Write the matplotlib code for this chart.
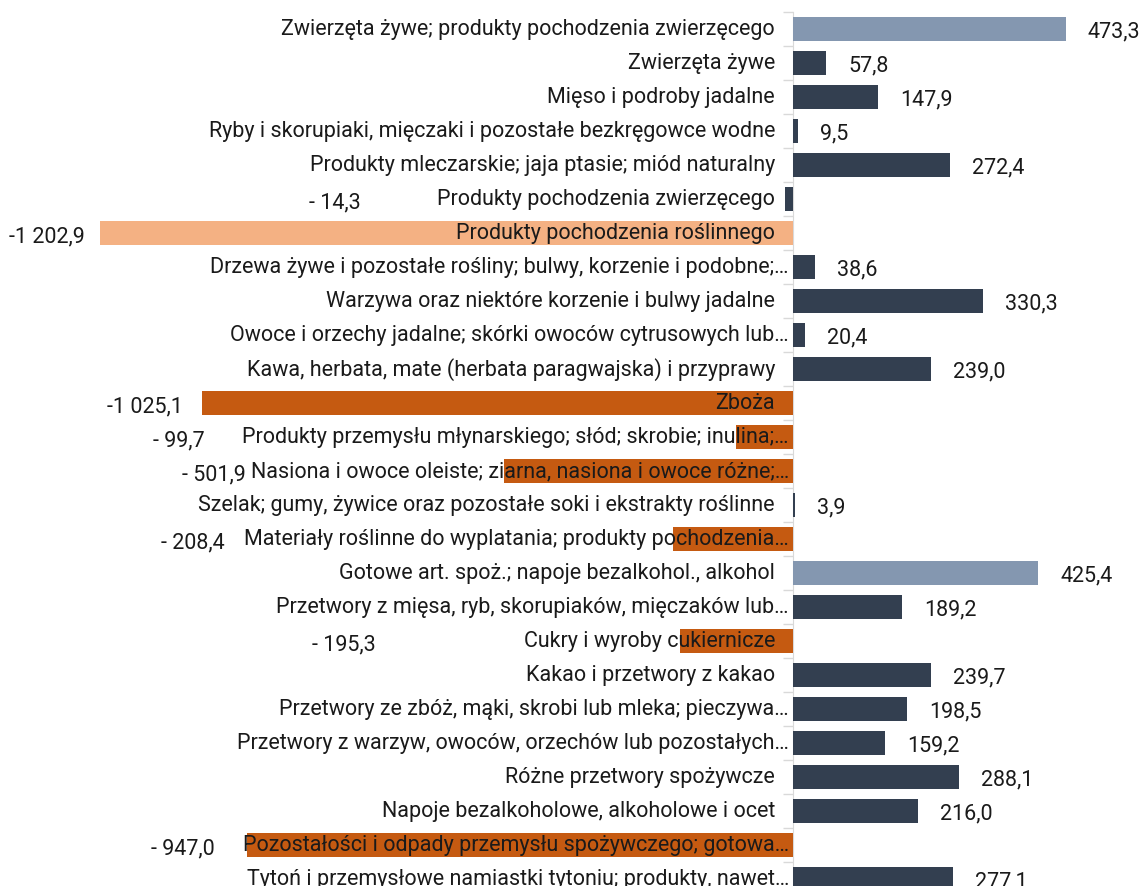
import matplotlib
matplotlib.use("Agg")
import matplotlib.pyplot as plt
from matplotlib.transforms import offset_copy

plt.rcParams['font.family'] = ['Roboto', 'DejaVu Sans']

# Dane
kategorie = [
    "Zwierzęta żywe; produkty pochodzenia zwierzęcego",
    "Zwierzęta żywe",
    "Mięso i podroby jadalne",
    "Ryby i skorupiaki, mięczaki i pozostałe bezkręgowce wodne",
    "Produkty mleczarskie; jaja ptasie; miód naturalny",
    "Produkty pochodzenia zwierzęcego",
    "Produkty pochodzenia roślinnego",
    "Drzewa żywe i pozostałe rośliny; bulwy, korzenie i podobne;…",
    "Warzywa oraz niektóre korzenie i bulwy jadalne",
    "Owoce i orzechy jadalne; skórki owoców cytrusowych lub…",
    "Kawa, herbata, mate (herbata paragwajska) i przyprawy",
    "Zboża",
    "Produkty przemysłu młynarskiego; słód; skrobie; inulina;…",
    "Nasiona i owoce oleiste; ziarna, nasiona i owoce różne;…",
    "Szelak; gumy, żywice oraz pozostałe soki i ekstrakty roślinne",
    "Materiały roślinne do wyplatania; produkty pochodzenia…",
    "Gotowe art. spoż.; napoje bezalkohol., alkohol",
    "Przetwory z mięsa, ryb, skorupiaków, mięczaków lub…",
    "Cukry i wyroby cukiernicze",
    "Kakao i przetwory z kakao",
    "Przetwory ze zbóż, mąki, skrobi lub mleka; pieczywa…",
    "Przetwory z warzyw, owoców, orzechów lub pozostałych…",
    "Różne przetwory spożywcze",
    "Napoje bezalkoholowe, alkoholowe i ocet",
    "Pozostałości i odpady przemysłu spożywczego; gotowa…",
    "Tytoń i przemysłowe namiastki tytoniu; produkty, nawet…",
]
wartosci = [473.3, 57.8, 147.9, 9.5, 272.4, -14.3, -1202.9, 38.6, 330.3, 20.4,
            239.0, -1025.1, -99.7, -501.9, 3.9, -208.4, 425.4, 189.2, -195.3,
            239.7, 198.5, 159.2, 288.1, 216.0, -947.0, 277.1]
# typ słupka: g+ grupa dodatnia, g- grupa ujemna, p+ pozycja dodatnia, p- pozycja ujemna
typ = ["g+", "p+", "p+", "p+", "p+", "p+", "g-", "p+", "p+", "p+",
       "p+", "p-", "p-", "p-", "p+", "p-", "g+", "p+", "p-",
       "p+", "p+", "p+", "p+", "p+", "p-", "p+"]

kolory = {"g+": "#8497B0", "g-": "#F4B183", "p+": "#333F50", "p-": "#C55A11"}

# dodatkowe przesunięcie etykiet ujemnych (px, w lewo)
przesun = {5: 62, 6: 1, 11: 5, 12: 24, 13: -9, 15: 6, 18: 134, 24: 14}

fig = plt.figure(figsize=(11.4, 8.87), dpi=100)
ax = fig.add_axes([0, 0, 1, 1])

y = list(range(len(kategorie)))
ax.barh(y, wartosci, height=0.68, color=[kolory[t] for t in typ], zorder=1)

ax.set_xlim(-1375.5, 601.9)
ax.set_ylim(25.206, -0.882)

for s in ['top', 'right', 'bottom']:
    ax.spines[s].set_visible(False)
ax.spines['left'].set_position(('data', 0))
ax.spines['left'].set_color('#d9d9d9')
ax.spines['left'].set_bounds(-0.5, 25.5)
ax.spines['left'].set_zorder(0.5)
ax.set_xticks([])
ax.set_yticks([])
ax.set_yticks([i - 0.5 for i in y], minor=True)
ax.tick_params(axis='y', which='minor', length=7, width=1, color='#d9d9d9',
               labelleft=False)

fig.canvas.draw()
renderer = fig.canvas.get_renderer()
inv = ax.transData.inverted()

fs = 15.5
for i, (k, v) in enumerate(zip(kategorie, wartosci)):
    odst = -4 if k.endswith("…") else -18
    tr = offset_copy(ax.transData, fig=fig, x=odst, y=0, units='dots')
    t = ax.text(0, i, k, ha='right', va='center', fontsize=fs, color='#1a1a1a',
                transform=tr, zorder=3)
    lab = f"{abs(v):.1f}".replace('.', ',')
    if abs(v) >= 1000:
        lab = lab[0] + " " + lab[1:]
    if v >= 0:
        tr2 = offset_copy(ax.transData, fig=fig, x=22, y=0, units='dots')
        ax.text(v, i + 0.06, lab, ha='left', va='center', fontsize=fs,
                color='#1a1a1a', transform=tr2)
    else:
        bb = t.get_window_extent(renderer)
        lewa = inv.transform((bb.x0, 0))[0]
        x = min(v, lewa)
        lab = ("-" if abs(v) >= 1000 else "- ") + lab
        tr2 = offset_copy(ax.transData, fig=fig, x=-14 - przesun.get(i, 0),
                          y=0, units='dots')
        ax.text(x, i + 0.08, lab, ha='right', va='center', fontsize=fs,
                color='#1a1a1a', transform=tr2)

fig.savefig("out.png", dpi=100)
